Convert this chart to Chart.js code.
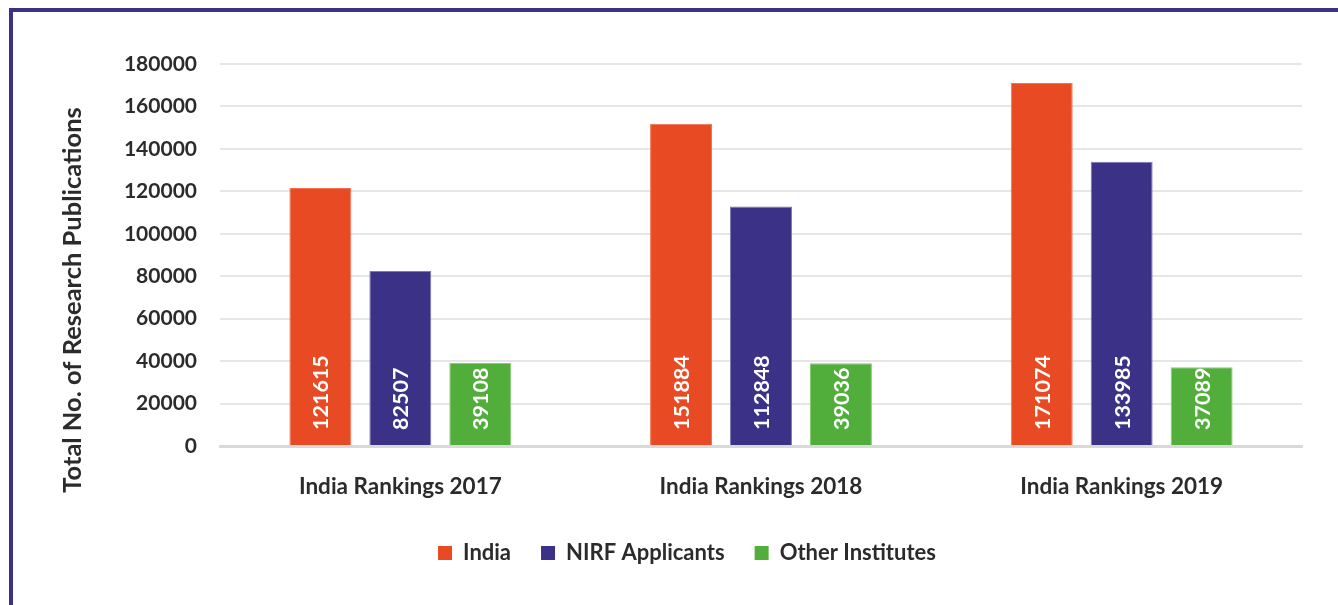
<!DOCTYPE html>
<html lang="en">

<head>
    <meta charset="UTF-8">
    <title>Research Publications</title>
    <style>
        body {
            margin: 0;
            background-color: #ffffff;
            font-family: Lato, Arial, sans-serif;
        }

        .frame {
            position: absolute;
            left: 9px;
            top: 8px;
            width: 1340px;
            height: 610px;
            border-left: 4px solid #3b3187;
            border-top: 4px solid #3b3187;
        }

        .chart-container {
            position: absolute;
            left: 0;
            top: 0;
            width: 1338px;
            height: 605px;
        }
    </style>
</head>

<body>
    <div class="frame"></div>
    <div class="chart-container">
        <canvas id="pubChart"></canvas>
    </div>

    <script src="https://cdn.jsdelivr.net/npm/chart.js"></script>
    <script>
        const categories = ['India Rankings 2017', 'India Rankings 2018', 'India Rankings 2019'];
        const seriesNames = ['India', 'NIRF Applicants', 'Other Institutes'];
        const india = [121615, 151884, 171074];
        const nirfApplicants = [82507, 112848, 133985];
        const otherInstitutes = [39108, 39036, 37089];
        const yTicks = [0, 20000, 40000, 60000, 80000, 100000, 120000, 140000, 160000, 180000];
        const yTitle = 'Total No. of Research Publications';

        // white rotated values at the foot of each bar
        const barValues = {
            id: 'barValues',
            afterDatasetsDraw(chart) {
                const ctx = chart.ctx;
                ctx.save();
                ctx.fillStyle = '#ffffff';
                ctx.font = 'bold 21.5px Lato';
                ctx.textAlign = 'left';
                ctx.textBaseline = 'middle';
                chart.data.datasets.forEach((ds, i) => {
                    chart.getDatasetMeta(i).data.forEach((bar, j) => {
                        ctx.save();
                        ctx.translate(bar.x, bar.base - 15);
                        ctx.rotate(-Math.PI / 2);
                        ctx.fillText(String(ds.data[j]), 0, 1);
                        ctx.restore();
                    });
                });
                ctx.restore();
            }
        };

        // axis title is centred on the whole frame, not on the plot area
        const sideTitle = {
            id: 'sideTitle',
            afterDraw(chart) {
                const ctx = chart.ctx;
                ctx.save();
                ctx.fillStyle = '#2b2b2b';
                ctx.font = 'bold 25.5px Lato';
                ctx.textAlign = 'center';
                ctx.textBaseline = 'middle';
                ctx.translate(73, 300);
                ctx.rotate(-Math.PI / 2);
                ctx.fillText(yTitle, 0, 0);
                ctx.restore();
            }
        };

        // legend sits a little right of the canvas centre
        const legendShift = {
            id: 'legendShift',
            afterLayout(chart) {
                chart.legend.left += 36;
                chart.legend.right += 36;
            }
        };

        const ctx = document.getElementById('pubChart').getContext('2d');

        new Chart(ctx, {
            type: 'bar',
            data: {
                labels: categories,
                datasets: [
                    {
                        label: seriesNames[0],
                        data: india,
                        backgroundColor: '#e84b23',
                        borderColor: '#f2724f',
                        borderWidth: 1
                    },
                    {
                        label: seriesNames[1],
                        data: nirfApplicants,
                        backgroundColor: '#3b3187',
                        borderColor: '#7f77b8',
                        borderWidth: 1
                    },
                    {
                        label: seriesNames[2],
                        data: otherInstitutes,
                        backgroundColor: '#52ae3b',
                        borderColor: '#86cc72',
                        borderWidth: 1
                    }
                ]
            },
            options: {
                responsive: true,
                maintainAspectRatio: false,
                animation: false,
                categoryPercentage: 0.665,
                barPercentage: 0.775,
                layout: {
                    padding: { top: 64, right: 36, bottom: 31, left: 0 }
                },
                plugins: {
                    tooltip: { enabled: false },
                    legend: {
                        position: 'bottom',
                        labels: {
                            color: '#2b2b2b',
                            font: { family: 'Lato', size: 22, weight: 'bold' },
                            boxWidth: 14,
                            boxHeight: 14,
                            padding: 30,
                            generateLabels(chart) {
                                return Chart.defaults.plugins.legend.labels.generateLabels(chart).map(l => {
                                    l.lineWidth = 0;
                                    return l;
                                });
                            }
                        }
                    }
                },
                scales: {
                    x: {
                        grid: { display: false, drawTicks: false },
                        border: { color: '#d9d9d9', width: 3 },
                        ticks: {
                            color: '#2b2b2b',
                            padding: 27,
                            font: { family: 'Lato', size: 22.5, weight: 'bold' }
                        },
                        afterFit(scale) {
                            scale.height = 66;
                        }
                    },
                    y: {
                        min: 0,
                        max: 180000,
                        border: { display: false },
                        grid: { color: '#e6e6e6', lineWidth: 2, drawTicks: false },
                        afterBuildTicks(scale) {
                            scale.ticks = yTicks.map(v => ({ value: v }));
                        },
                        ticks: {
                            color: '#2b2b2b',
                            padding: 23,
                            font: { family: 'Lato', size: 21, weight: 'bold' },
                            callback: value => String(value)
                        },
                        afterFit(scale) {
                            scale.width = 220;
                        }
                    }
                }
            },
            plugins: [barValues, sideTitle, legendShift]
        });
    </script>
</body>

</html>
